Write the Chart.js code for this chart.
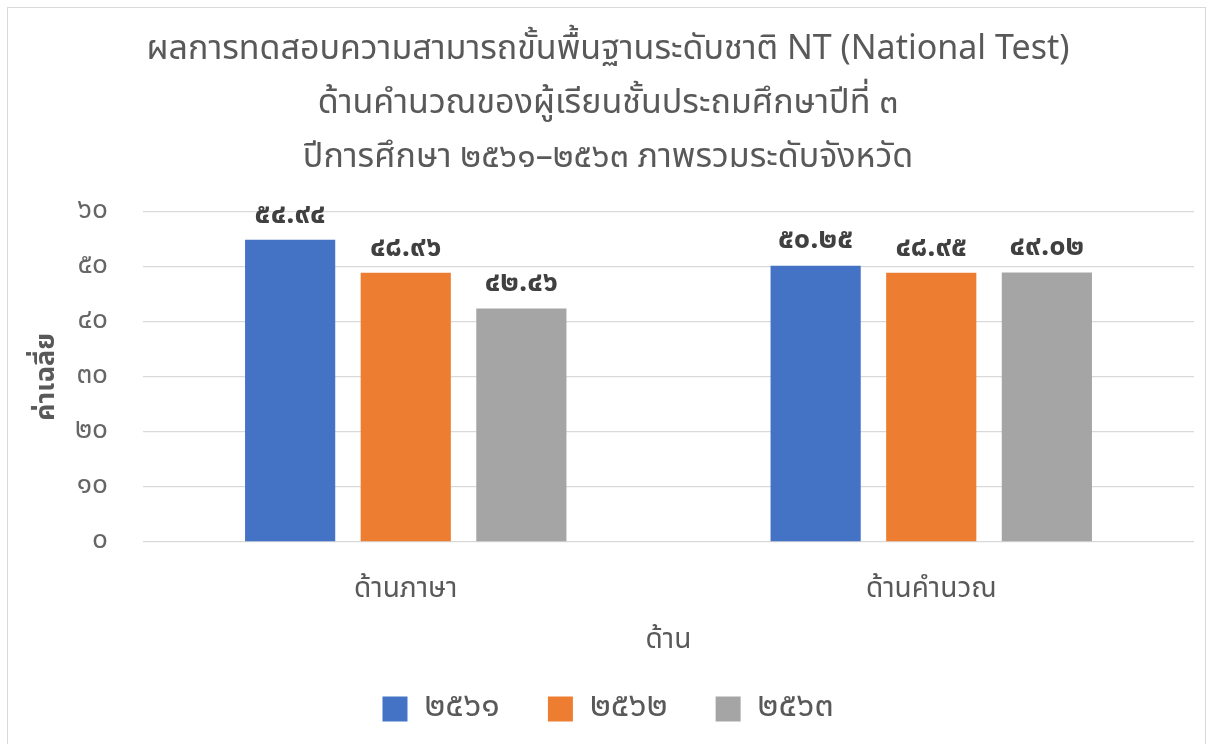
<!DOCTYPE html>
<html><head><meta charset="utf-8">
<script src="https://cdn.jsdelivr.net/npm/chart.js@4"></script>
<style>
html,body{margin:0;padding:0;background:#fff;}
#wrap{position:absolute;left:0;top:0;width:1209px;height:744px;}
#frame{position:absolute;left:7px;top:7px;width:1199px;height:745px;border:1px solid #d9d9d9;box-sizing:border-box;pointer-events:none;}
</style></head>
<body>
<div id="wrap"><canvas id="c" width="1209" height="744"></canvas></div>
<div id="frame"></div>
<script>
const categories = ['ด้านภาษา', 'ด้านคำนวณ'];
const seriesNames = ['2561', '2562', '2563'];
const values2561 = [54.94, 50.25];
const values2562 = [48.96, 48.95];
const values2563 = [42.46, 49.02];
const yTicks = [0, 10, 20, 30, 40, 50, 60];
const titleLines = [
  'ผลการทดสอบความสามารถขั้นพื้นฐานระดับชาติ NT (National Test)',
  'ด้านคำนวณของผู้เรียนชั้นประถมศึกษาปีที่ ๓',
  'ปีการศึกษา ๒๕๖๑–๒๕๖๓ ภาพรวมระดับจังหวัด'
];
const yTitle = 'ค่าเฉลี่ย';
const xTitle = 'ด้าน';
const colors = ['#4472C4', '#ED7D31', '#A5A5A5'];

const thaiDigits = '๐๑๒๓๔๕๖๗๘๙';
function toThai(s){ return String(s).replace(/[0-9]/g, d => thaiDigits[+d]); }

const FONT = "'Noto Sans Thai','Noto Sans','Tahoma',sans-serif";
const GREY = '#595959';

const labelPlugin = {
  id: 'barLabels',
  afterDatasetsDraw(chart){
    const ctx = chart.ctx;
    ctx.save();
    ctx.font = 'bold 29px ' + FONT;
    ctx.fillStyle = '#404040';
    ctx.textAlign = 'center';
    ctx.textBaseline = 'middle';
    chart.data.datasets.forEach((ds, i) => {
      const meta = chart.getDatasetMeta(i);
      meta.data.forEach((bar, j) => {
        ctx.fillText(toThai(ds.data[j].toFixed(2)), bar.x, bar.y - 23);
      });
    });
    ctx.restore();
  }
};

const data = {
  labels: categories,
  datasets: [values2561, values2562, values2563].map((v, i) => ({
    label: toThai(seriesNames[i]),
    data: v,
    backgroundColor: colors[i],
    borderWidth: 0,
    categoryPercentage: 0.66,
    barPercentage: 0.78
  }))
};

new Chart(document.getElementById('c'), {
  type: 'bar',
  data,
  plugins: [labelPlugin],
  options: {
    responsive: false,
    animation: false,
    layout: { padding: { left: 22, right: 15, top: 20, bottom: 8 } },
    plugins: {
      title: {
        display: true,
        text: titleLines,
        color: GREY,
        font: { family: FONT, size: 34, weight: 'normal', lineHeight: '54px' },
        padding: { top: 5, bottom: 25 }
      },
      legend: {
        position: 'bottom',
        labels: {
          color: GREY,
          font: { family: FONT, size: 34 },
          boxWidth: 25, boxHeight: 25,
          padding: 48
        }
      },
      tooltip: { enabled: false }
    },
    scales: {
      y: {
        min: 0, max: 60,
        afterBuildTicks(scale){ scale.ticks = yTicks.map(v => ({ value: v })); },
        ticks: {
          color: '#666666',
          font: { family: FONT, size: 28 },
          padding: 35,
          callback: v => toThai(v)
        },
        grid: { color: '#d9d9d9', drawTicks: false, lineWidth: 1.3 },
        border: { display: false },
        title: {
          display: true,
          text: yTitle,
          color: GREY,
          font: { family: FONT, size: 27, weight: 'bold' },
          padding: { top: 10, bottom: 0 }
        },
        afterFit(scale){ scale.width = 121; }
      },
      x: {
        ticks: {
          color: GREY,
          font: { family: FONT, size: 28 },
          padding: 33
        },
        grid: { display: false, drawTicks: false },
        border: { display: false },
        title: {
          display: true,
          text: xTitle,
          color: GREY,
          font: { family: FONT, size: 28 },
          padding: { top: 0, bottom: -15 }
        },
        afterFit(scale){ scale.height = 102; }
      }
    }
  }
});
</script>
</body></html>
